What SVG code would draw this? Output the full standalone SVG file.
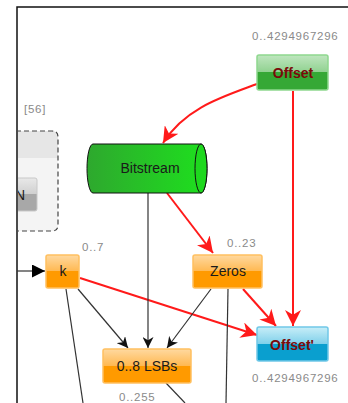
<svg xmlns="http://www.w3.org/2000/svg" width="348" height="403" viewBox="0 0 348 403">
  <style>
    .lbl { font-family: "Liberation Sans", Arial, sans-serif; font-size: 11.5px; letter-spacing: 0.75px; fill: #8a8a8a; }
    .txt { font-family: "Liberation Sans", Arial, sans-serif; font-size: 14px; fill: #1a1a1a; text-anchor: middle; }
    .var { font-family: "Liberation Sans", Arial, sans-serif; font-size: 14px; font-weight: bold; fill: #7a0a0a; text-anchor: middle; }
    .blk { stroke: #333; stroke-width: 1.2; fill: none; }
    .red { stroke: #ff1a1a; stroke-width: 2; fill: none; }
  </style>
  <defs>
    <linearGradient id="gOrange" x1="0" y1="0" x2="0" y2="1">
      <stop offset="0" stop-color="#ffd9a0"/>
      <stop offset="0.5" stop-color="#ffb850"/>
      <stop offset="0.5" stop-color="#ff9a00"/>
      <stop offset="1" stop-color="#ff9a00"/>
    </linearGradient>
    <linearGradient id="gGreen" x1="0" y1="0" x2="0" y2="1">
      <stop offset="0" stop-color="#bfe6bf"/>
      <stop offset="0.5" stop-color="#8fd18f"/>
      <stop offset="0.5" stop-color="#35a835"/>
      <stop offset="1" stop-color="#35a835"/>
    </linearGradient>
    <linearGradient id="gBlue" x1="0" y1="0" x2="0" y2="1">
      <stop offset="0" stop-color="#c8eef8"/>
      <stop offset="0.5" stop-color="#7fd0ea"/>
      <stop offset="0.5" stop-color="#0a9fcf"/>
      <stop offset="1" stop-color="#0a9fcf"/>
    </linearGradient>
    <linearGradient id="gGray" x1="0" y1="0" x2="0" y2="1">
      <stop offset="0" stop-color="#e8e8e8"/>
      <stop offset="0.5" stop-color="#cfcfcf"/>
      <stop offset="0.5" stop-color="#a8a8a8"/>
      <stop offset="1" stop-color="#a8a8a8"/>
    </linearGradient>
    <linearGradient id="gCyl" x1="0" y1="0" x2="1" y2="0">
      <stop offset="0" stop-color="#2ea82e"/>
      <stop offset="1" stop-color="#1ee01e"/>
    </linearGradient>
    <marker id="aBlk" viewBox="0 0 10 10" refX="10" refY="5" markerWidth="11" markerHeight="11" markerUnits="userSpaceOnUse" orient="auto">
      <path d="M0,0 L10,5 L0,10 L3,5 Z" fill="#111"/>
    </marker>
    <marker id="aBlkBig" viewBox="0 0 10 10" refX="10" refY="5" markerWidth="13" markerHeight="13" markerUnits="userSpaceOnUse" orient="auto">
      <path d="M0,0 L10,5 L0,10 Z" fill="#000"/>
    </marker>
    <marker id="aRed" viewBox="0 0 10 10" refX="10" refY="5" markerWidth="16" markerHeight="16" markerUnits="userSpaceOnUse" orient="auto">
      <path d="M0,0 L10,5 L0,10 L3,5 Z" fill="#ff1a1a"/>
    </marker>
    <clipPath id="frameClip"><rect x="18" y="0" width="330" height="403"/></clipPath>
  </defs>

  <rect width="348" height="403" fill="#ffffff"/>

  <!-- canvas frame -->
  <path d="M17,403 V7 H348" fill="none" stroke="#111" stroke-width="1.5"/>

  <!-- collapsed group on the left edge -->
  <g id="group56">
    <text class="lbl" x="24" y="113">[56]</text>
    <g clip-path="url(#frameClip)">
      <path d="M0,131 H52 Q58,131 58,137 V225 Q58,231 52,231 H0 Z" fill="#f4f4f4"/>
      <path d="M0,131 H52 Q58,131 58,137 V158 H0 Z" fill="#e6e6e6"/>
      <path d="M0,131 H52 Q58,131 58,137 V225 Q58,231 52,231 H0" fill="none" stroke="#444" stroke-width="1.2" stroke-dasharray="5,3"/>
      <rect x="4" y="178" width="33" height="33" rx="2" fill="url(#gGray)" stroke="#c8c8c8"/>
      <text class="txt" x="20" y="200">N</text>
    </g>
  </g>

  <!-- connectors -->
  <g id="edges">
    <path class="red" d="M257,84 C222,97 185,108 163,143" marker-end="url(#aRed)"/>
    <path class="red" d="M293,91 V326" marker-end="url(#aRed)"/>
    <path class="red" d="M167,193 L213,253" marker-end="url(#aRed)"/>
    <path class="red" d="M80,278 L257,335" marker-end="url(#aRed)"/>
    <path class="red" d="M243,289 L276,326" marker-end="url(#aRed)"/>
    <path class="blk" d="M148,193 V348" marker-end="url(#aBlk)"/>
    <path class="blk" d="M78,289 L128,348" marker-end="url(#aBlk)"/>
    <path class="blk" d="M211,289 L167,348" marker-end="url(#aBlk)"/>
    <path d="M17,271 H45" stroke="#333" stroke-width="1.2" fill="none" marker-end="url(#aBlkBig)"/>
    <path class="blk" d="M66,289 L83,403"/>
    <path class="blk" d="M228,289 L226,403"/>
    <path class="blk" d="M166,383 L185,403"/>
  </g>

  <g id="offset">
    <text class="lbl" x="252" y="40">0..4294967296</text>
    <rect x="257" y="55" width="71" height="35" rx="2" fill="url(#gGreen)" stroke="#8fd88f" stroke-width="1.5"/>
    <text class="var" x="293" y="78">Offset</text>
  </g>

  <g id="bitstream">
    <path d="M93,144 H201 A6,24.5 0 0 1 201,193 H93 A6,24.5 0 0 1 93,144 Z" fill="url(#gCyl)" stroke="#111" stroke-width="1"/>
    <ellipse cx="201" cy="168.5" rx="6" ry="24.5" fill="#1ed81e" stroke="#111" stroke-width="1"/>
    <text class="txt" x="150" y="173">Bitstream</text>
  </g>

  <g id="k">
    <text class="lbl" x="82" y="251">0..7</text>
    <rect x="46" y="255" width="33" height="33" rx="2" fill="url(#gOrange)" stroke="#ffc060" stroke-width="1.5"/>
    <text class="txt" x="63" y="276">k</text>
  </g>

  <g id="zeros">
    <text class="lbl" x="227" y="247">0..23</text>
    <rect x="193" y="255" width="69" height="33" rx="2" fill="url(#gOrange)" stroke="#ffc060" stroke-width="1.5"/>
    <text class="txt" x="228" y="276">Zeros</text>
  </g>

  <g id="lsbs">
    <rect x="103" y="349" width="88" height="34" rx="2" fill="url(#gOrange)" stroke="#ffc060" stroke-width="1.5"/>
    <text class="txt" x="147" y="371">0..8 LSBs</text>
    <text class="lbl" x="119" y="401">0..255</text>
  </g>

  <g id="offsetPrime">
    <rect x="257" y="327" width="71" height="34" rx="2" fill="url(#gBlue)" stroke="#70c8e8" stroke-width="1.5"/>
    <text class="var" x="292" y="350">Offset'</text>
    <text class="lbl" x="252" y="382">0..4294967296</text>
  </g>
</svg>
